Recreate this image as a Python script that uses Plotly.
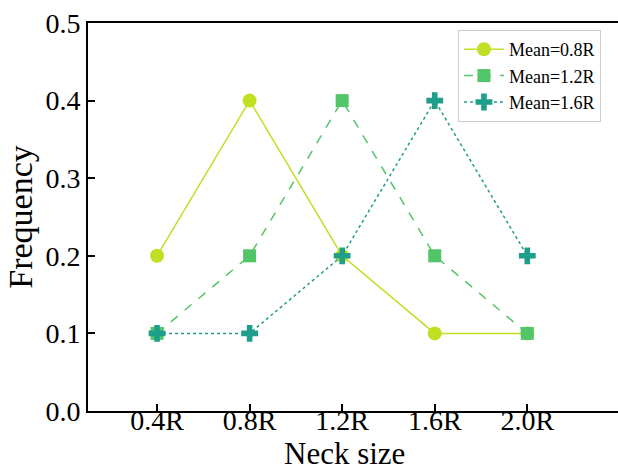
import plotly.graph_objects as go

categories = ["0.4R", "0.8R", "1.2R", "1.6R", "2.0R"]
mean_08 = [0.2, 0.4, 0.2, 0.1, 0.1]
mean_12 = [0.1, 0.2, 0.4, 0.2, 0.1]
mean_16 = [0.1, 0.1, 0.2, 0.4, 0.2]
series_names = ["Mean=0.8R", "Mean=1.2R", "Mean=1.6R"]
y_ticks = [0.0, 0.1, 0.2, 0.3, 0.4, 0.5]

FONT = "Liberation Serif"
xs = list(range(len(categories)))

fig = go.Figure()
styles = [
    (mean_08, "#c2df23", "solid", "circle", 14),
    (mean_12, "#52c569", "dash", "square", 13),
    (mean_16, "#1f9e89", "dot", "cross", 14),
]
for (vals, color, dash, sym, size), name in zip(styles, series_names):
    fig.add_trace(go.Scatter(
        x=xs, y=vals, name=name, mode="lines+markers",
        line=dict(color=color, width=1.5, dash=dash),
        marker=dict(color=color, symbol=sym, size=size, line=dict(width=0)),
    ))

W, H = 618, 471
L, R, T, B = 88, 0, 23, 60
fig.update_layout(
    width=W, height=H,
    margin=dict(l=L, r=R, t=T, b=B),
    paper_bgcolor="white", plot_bgcolor="white",
    font=dict(family=FONT, color="black"),
    showlegend=True,
    legend=dict(
        x=0.698, y=0.982, xanchor="left", yanchor="top",
        bordercolor="#cccccc", borderwidth=1, bgcolor="white",
        font=dict(family=FONT, size=18), tracegroupgap=0,
        itemwidth=40,
    ),
)
fig.update_xaxes(
    tickmode="array", tickvals=xs, ticktext=categories,
    range=[-0.746, 4.98],
    showgrid=False, zeroline=False,
    showline=True, linecolor="black", linewidth=2, mirror=True,
    ticks="inside", ticklen=7, tickwidth=1.5, tickcolor="black",
    tickfont=dict(family=FONT, size=28),
    ticklabelstandoff=-17,
)
fig.update_yaxes(
    tickmode="array", tickvals=y_ticks, ticktext=[f"{v:.1f}" for v in y_ticks],
    range=[0, 0.5],
    showgrid=False, zeroline=False,
    showline=True, linecolor="black", linewidth=2,
    ticks="inside", ticklen=7, tickwidth=1.5, tickcolor="black",
    tickfont=dict(family=FONT, size=28),
    title=dict(text="Frequency", font=dict(family=FONT, size=34), standoff=3),
)
fig.add_annotation(
    text="Neck size", xref="paper", yref="paper", x=(344 - L) / (W - L - R), y=0,
    xanchor="center", yanchor="top", yshift=-23, showarrow=False,
    font=dict(family=FONT, size=31),
)
fig.write_html("out.html")
